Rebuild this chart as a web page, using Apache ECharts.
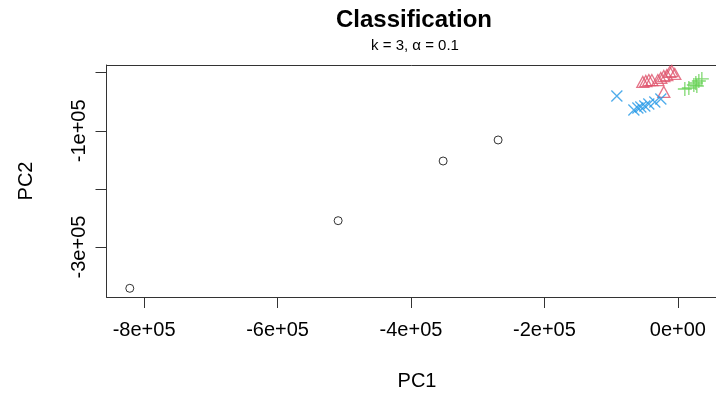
<!DOCTYPE html>
<html>
<head>
<meta charset="utf-8">
<script src="https://cdn.jsdelivr.net/npm/echarts@6/dist/echarts.min.js"></script>
<style>html,body{margin:0;padding:0;background:#fff}#c{width:716px;height:394px}</style>
</head>
<body>
<div id="c"></div>
<script>
// ---- data (PC1, PC2) per class ----
const class1Circles = [[-821500,-371100],[-509200,-254700],[-351800,-152000],[-269400,-115800]];
const class2Triangles = [[-52500,-16000],[-48000,-14300],[-43500,-12600],[-39000,-12600],[-30000,-12600],
  [-25500,-9100],[-21000,-5700],[-16500,-4000],[-12000,1200],[-9000,2900],[-4500,-2200],[-21000,-33200]];
const class3Plus = [[10500,-28100],[16500,-26300],[24000,-21200],[28500,-22900],[31500,-14300],[36000,-10800],[27000,-17700]];
const class4Cross = [[-91400,-40100],[-65900,-64200],[-59900,-60800],[-55500,-59000],[-49500,-57300],
  [-43500,-53900],[-34500,-50400],[-25500,-45300]];
const xTicks = [-800000,-600000,-400000,-200000,0];
const yTicks = [0,-100000,-200000,-300000];
const yLabelTicks = [-100000,-300000];
const titleText = 'Classification';
const subtitleText = 'k = 3, \u03b1 = 0.1';

function sci(v){
  if (v === 0) return '0e+00';
  const e = Math.floor(Math.log10(Math.abs(v)));
  const m = Math.round(v/Math.pow(10,e));
  return m + 'e' + (e>=0?'+':'-') + String(Math.abs(e)).padStart(2,'0');
}

const FONT = 'Liberation Sans, Arial, sans-serif';
const chart = echarts.init(document.getElementById('c'), null, {renderer:'canvas'});
const lineCol = '#333';
const X_MIN = -856400, X_MAX = 57200;
function sty(col){ return {color:'transparent', borderColor:col, borderWidth:1.3}; }
chart.setOption({
  animation:false,
  backgroundColor:'#fff',
  grid:{left:106.5, right:0, top:65, bottom:97, show:false},
  xAxis:[
   {type:'value', position:'bottom', min:X_MIN, max:X_MAX, splitLine:{show:false},
    axisLine:{show:true, onZero:false, lineStyle:{color:lineCol, width:1}},
    axisTick:{show:true, length:11, customValues:xTicks, lineStyle:{color:lineCol}},
    axisLabel:{show:true, customValues:xTicks, formatter:v=>sci(v), margin:23, fontSize:20, color:'#000', fontFamily:FONT}},
   {type:'value', position:'top', min:X_MIN, max:X_MAX, splitLine:{show:false},
    axisLine:{show:true, onZero:false, lineStyle:{color:lineCol, width:1}},
    axisTick:{show:false}, axisLabel:{show:false}}
  ],
  yAxis:{type:'value', min:-386060, max:13250, splitLine:{show:false},
    axisLine:{show:true, onZero:false, lineStyle:{color:lineCol, width:1}},
    axisTick:{show:true, length:11, customValues:yTicks, lineStyle:{color:lineCol}},
    axisLabel:{show:true, customValues:yLabelTicks, rotate:90, formatter:v=>sci(v), margin:17, fontSize:20, color:'#000', fontFamily:FONT}},
  graphic:[
    {type:'text', x:414, y:20, style:{text:titleText, font:'bold 24px '+FONT, fill:'#000', textAlign:'center', textVerticalAlign:'middle'}},
    {type:'text', x:415, y:46, style:{text:subtitleText, font:'15px '+FONT, fill:'#000', textAlign:'center', textVerticalAlign:'middle'}},
    {type:'text', x:417, y:381, style:{text:'PC1', font:'20px '+FONT, fill:'#000', textAlign:'center', textVerticalAlign:'middle'}},
    {type:'text', x:26, y:181, rotation:Math.PI/2, style:{text:'PC2', font:'20px '+FONT, fill:'#000', textAlign:'center', textVerticalAlign:'middle'}}
  ],
  series:[
    {type:'scatter', data:class1Circles, symbol:'circle', symbolSize:8, itemStyle:{color:'transparent', borderColor:'#000', borderWidth:1}, emphasis:{disabled:true}, silent:true},
    {type:'scatter', data:class2Triangles, symbol:'triangle', symbolSize:[12,11], itemStyle:sty('#DF536B'), emphasis:{disabled:true}, silent:true},
    {type:'scatter', data:class3Plus, symbol:'path://M0,6L12,6M6,0L6,12', symbolSize:14, itemStyle:sty('#61D04F'), emphasis:{disabled:true}, silent:true},
    {type:'scatter', data:class4Cross, symbol:'path://M0,0L10,10M10,0L0,10', symbolSize:11, itemStyle:sty('#2297E6'), emphasis:{disabled:true}, silent:true}
  ]
});
</script>
</body>
</html>
